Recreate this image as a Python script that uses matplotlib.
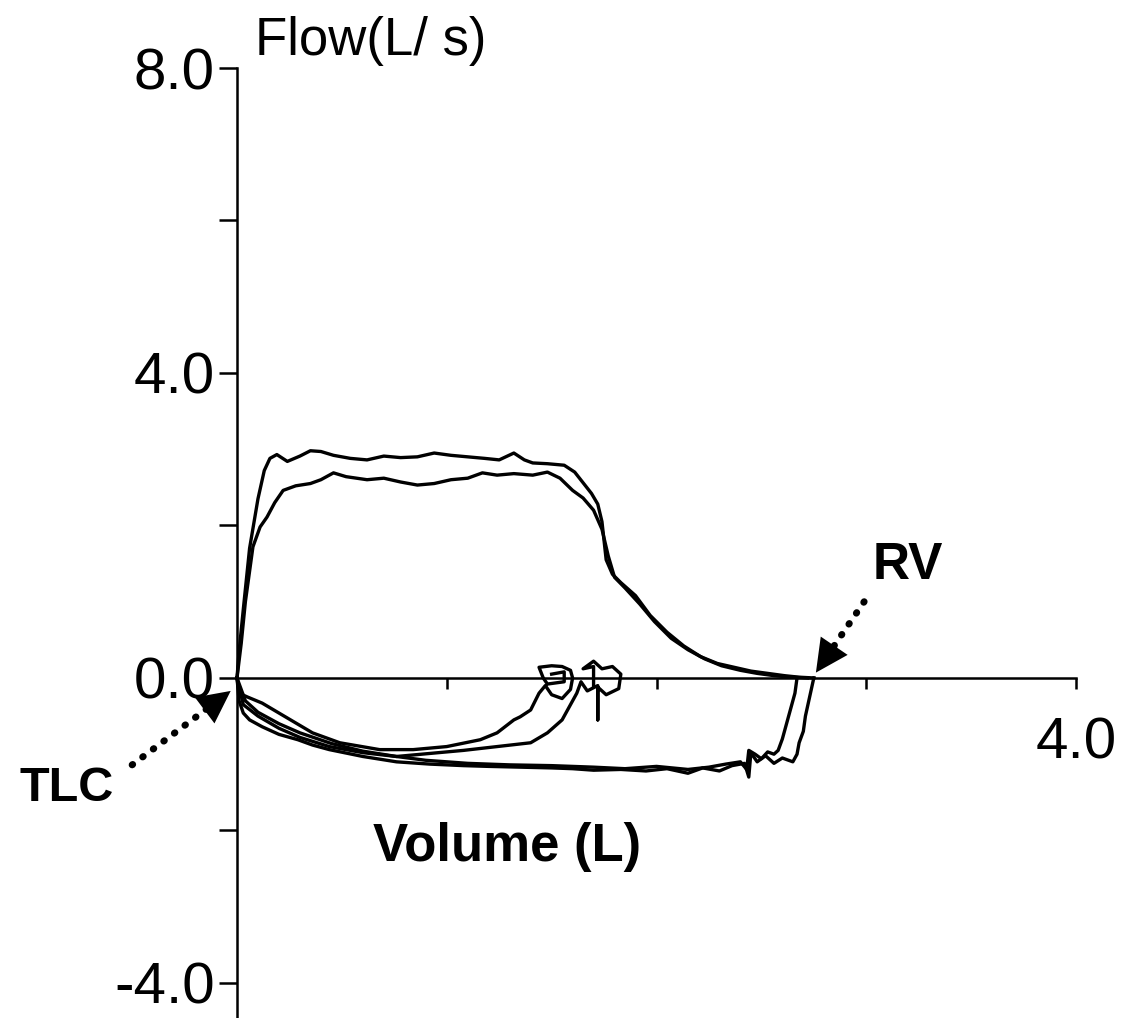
import numpy as np
import matplotlib
matplotlib.use("Agg")
import matplotlib.pyplot as plt

plt.rcParams["font.family"] = ["Liberation Sans", "DejaVu Sans"]

# forced expiration, trial 1 (upper curve) - volume (L), flow (L/s)
exp_a_vol = [0.0, 0.01, 0.03, 0.06, 0.10, 0.13, 0.157, 0.19, 0.24, 0.30, 0.35, 0.40, 0.46,
             0.54, 0.62, 0.70, 0.78, 0.86, 0.94, 1.02, 1.10, 1.18, 1.25, 1.32, 1.37, 1.41,
             1.48, 1.56, 1.61, 1.65, 1.69, 1.72, 1.74, 1.76, 1.79, 1.83, 1.90, 1.97, 2.05,
             2.13, 2.21, 2.29, 2.37, 2.45, 2.53, 2.61, 2.68, 2.75]
exp_a_flow = [0.0, 0.35, 0.9, 1.7, 2.35, 2.72, 2.88, 2.93, 2.84, 2.91, 2.98, 2.97, 2.92,
              2.88, 2.86, 2.91, 2.89, 2.90, 2.95, 2.92, 2.90, 2.88, 2.86, 2.95, 2.86, 2.82,
              2.81, 2.79, 2.70, 2.56, 2.42, 2.28, 2.05, 1.55, 1.36, 1.25, 1.08, 0.82, 0.60,
              0.42, 0.28, 0.19, 0.14, 0.09, 0.06, 0.03, 0.01, 0.0]

# forced expiration, trial 2 (lower curve)
exp_b_vol = [0.0, 0.02, 0.04, 0.076, 0.11, 0.143, 0.18, 0.22, 0.28, 0.35, 0.40, 0.46, 0.52,
             0.62, 0.70, 0.78, 0.86, 0.94, 1.02, 1.10, 1.17, 1.24, 1.32, 1.41, 1.48, 1.54,
             1.60, 1.65, 1.70, 1.74, 1.77, 1.80, 1.85, 1.92, 1.99, 2.07, 2.15, 2.23, 2.31,
             2.40, 2.48, 2.56, 2.64, 2.72]
exp_b_flow = [0.0, 0.45, 1.0, 1.72, 1.98, 2.11, 2.30, 2.46, 2.52, 2.55, 2.60, 2.69, 2.64,
              2.60, 2.62, 2.57, 2.53, 2.55, 2.60, 2.62, 2.69, 2.66, 2.68, 2.66, 2.70, 2.62,
              2.46, 2.36, 2.20, 1.95, 1.60, 1.32, 1.18, 0.97, 0.74, 0.52, 0.37, 0.25, 0.16,
              0.10, 0.06, 0.03, 0.01, 0.0]

# inspiration from RV back to TLC, trial 1 (outer)
insp_a_vol = [2.75, 2.73, 2.71, 2.70, 2.68, 2.67, 2.65, 2.60, 2.56, 2.52, 2.48, 2.45, 2.44,
              2.42, 2.36, 2.30, 2.22, 2.15, 2.05, 1.95, 1.83, 1.70, 1.60, 1.50, 1.35, 1.20,
              1.08, 0.92, 0.76, 0.60, 0.44, 0.36, 0.29, 0.20, 0.12, 0.06, 0.03, 0.01, 0.0]
insp_a_flow = [0.0, -0.25, -0.5, -0.7, -0.85, -1.0, -1.1, -1.05, -1.12, -1.02, -1.10, -0.98,
               -1.30, -1.12, -1.15, -1.22, -1.18, -1.25, -1.19, -1.22, -1.20, -1.21, -1.19,
               -1.18, -1.17, -1.16, -1.15, -1.13, -1.10, -1.03, -0.94, -0.88, -0.81, -0.74,
               -0.64, -0.55, -0.46, -0.30, 0.0]

# inspiration from RV back to TLC, trial 2
insp_b_vol = [2.67, 2.66, 2.64, 2.62, 2.60, 2.58, 2.56, 2.53, 2.50, 2.47, 2.44, 2.43, 2.40,
              2.33, 2.25, 2.15, 2.00, 1.85, 1.70, 1.50, 1.30, 1.10, 0.90, 0.76, 0.60, 0.45,
              0.30, 0.20, 0.10, 0.04, 0.0]
insp_b_flow = [0.0, -0.2, -0.4, -0.6, -0.8, -0.95, -1.0, -0.97, -1.06, -1.0, -0.95, -1.2,
               -1.1, -1.13, -1.17, -1.2, -1.16, -1.19, -1.17, -1.15, -1.14, -1.12, -1.08,
               -1.03, -0.96, -0.86, -0.72, -0.60, -0.45, -0.30, 0.0]

# tidal loop 1 then inspiration to TLC
tidal_1_vol = [1.50, 1.56, 1.56, 1.48, 1.46, 1.44, 1.50, 1.55, 1.59, 1.60, 1.59, 1.55, 1.50,
               1.47, 1.44, 1.40, 1.35, 1.32, 1.24, 1.16, 1.00, 0.84, 0.68, 0.49, 0.36, 0.20,
               0.12, 0.05, 0.01, 0.0]
tidal_1_flow = [0.05, 0.08, -0.05, -0.08, 0.0, 0.14, 0.16, 0.15, 0.10, 0.0, -0.15, -0.27,
                -0.22, -0.10, -0.20, -0.42, -0.51, -0.55, -0.72, -0.81, -0.90, -0.94, -0.94,
                -0.85, -0.72, -0.46, -0.33, -0.25, -0.20, 0.0]

# tidal loop 2 then inspiration to TLC
tidal_2_vol = [1.70, 1.70, 1.65, 1.70, 1.74, 1.79, 1.83, 1.82, 1.76, 1.72, 1.72, 1.72, 1.67,
               1.64, 1.62, 1.55, 1.48, 1.40, 1.24, 1.08, 0.92, 0.76, 0.60, 0.44, 0.30, 0.20,
               0.10, 0.03, 0.0]
tidal_2_flow = [-0.1, 0.15, 0.12, 0.22, 0.12, 0.15, 0.05, -0.14, -0.22, -0.12, -0.55, -0.10,
                -0.17, -0.05, -0.20, -0.55, -0.72, -0.85, -0.90, -0.95, -0.99, -1.03, -0.98,
                -0.90, -0.78, -0.66, -0.50, -0.35, 0.0]

y_ticks = [-4, -2, 0, 2, 4, 6, 8]
y_tick_labels = ["-4.0", "", "0.0", "", "4.0", "", "8.0"]
x_ticks = [1, 2, 3, 4]
x_tick_labels = ["", "", "", "4.0"]

fig = plt.figure(figsize=(11.3, 10.18), dpi=100)
ax = fig.add_axes([237 / 1130, 0.0, (1076 - 237) / 1130, 950 / 1018])

for v, f in [(exp_a_vol, exp_a_flow), (exp_b_vol, exp_b_flow),
             (insp_a_vol, insp_a_flow), (insp_b_vol, insp_b_flow),
             (tidal_1_vol, tidal_1_flow), (tidal_2_vol, tidal_2_flow)]:
    ax.plot(v, f, color="black", lw=2.4, solid_joinstyle="round", clip_on=False)

ax.set_xlim(0, 4)
ax.set_ylim(-4.46, 8)
ax.spines["top"].set_visible(False)
ax.spines["right"].set_visible(False)
ax.spines["bottom"].set_position(("data", 0))
for s in ("left", "bottom"):
    ax.spines[s].set_linewidth(1.8)

ax.set_yticks(y_ticks)
ax.set_yticklabels(y_tick_labels, fontsize=42)
ax.set_xticks(x_ticks)
ax.set_xticklabels(x_tick_labels, fontsize=42)
ax.tick_params(axis="y", direction="out", length=13, width=1.8, pad=3)
ax.tick_params(axis="x", direction="out", length=8, width=1.8, pad=20)

ax.text(0.085, 8.36, "Flow(L/ s)", fontsize=38, ha="left", va="center")
ax.text(0.65, -2.22, "Volume (L)", fontsize=38, fontweight="bold", ha="left", va="center")
ax.text(-0.81, -1.45, "TLC", fontsize=35, fontweight="bold", ha="center", va="center")
ax.text(3.2, 1.48, "RV", fontsize=37, fontweight="bold", ha="center", va="center")

# dotted pointer arrows
for tail, tip in [((2.99, 1.0), (2.76, 0.07)), ((-0.5, -1.14), (-0.03, -0.17))]:
    tail = np.array(tail)
    tip = np.array(tip)
    d = tip - tail
    ax.plot([tail[0], tip[0] - d[0] * 0.22], [tail[1], tip[1] - d[1] * 0.22],
            color="black", lw=5, ls=(0, (0.1, 1.8)), dash_capstyle="round",
            clip_on=False)
    start = tip - d * 0.35
    ax.annotate("", xy=tuple(tip), xytext=tuple(start), annotation_clip=False,
                arrowprops=dict(arrowstyle="-|>,head_length=0.9,head_width=0.45",
                                color="black", lw=0, mutation_scale=26,
                                shrinkA=0, shrinkB=0))

fig.savefig("out.png", dpi=100)
